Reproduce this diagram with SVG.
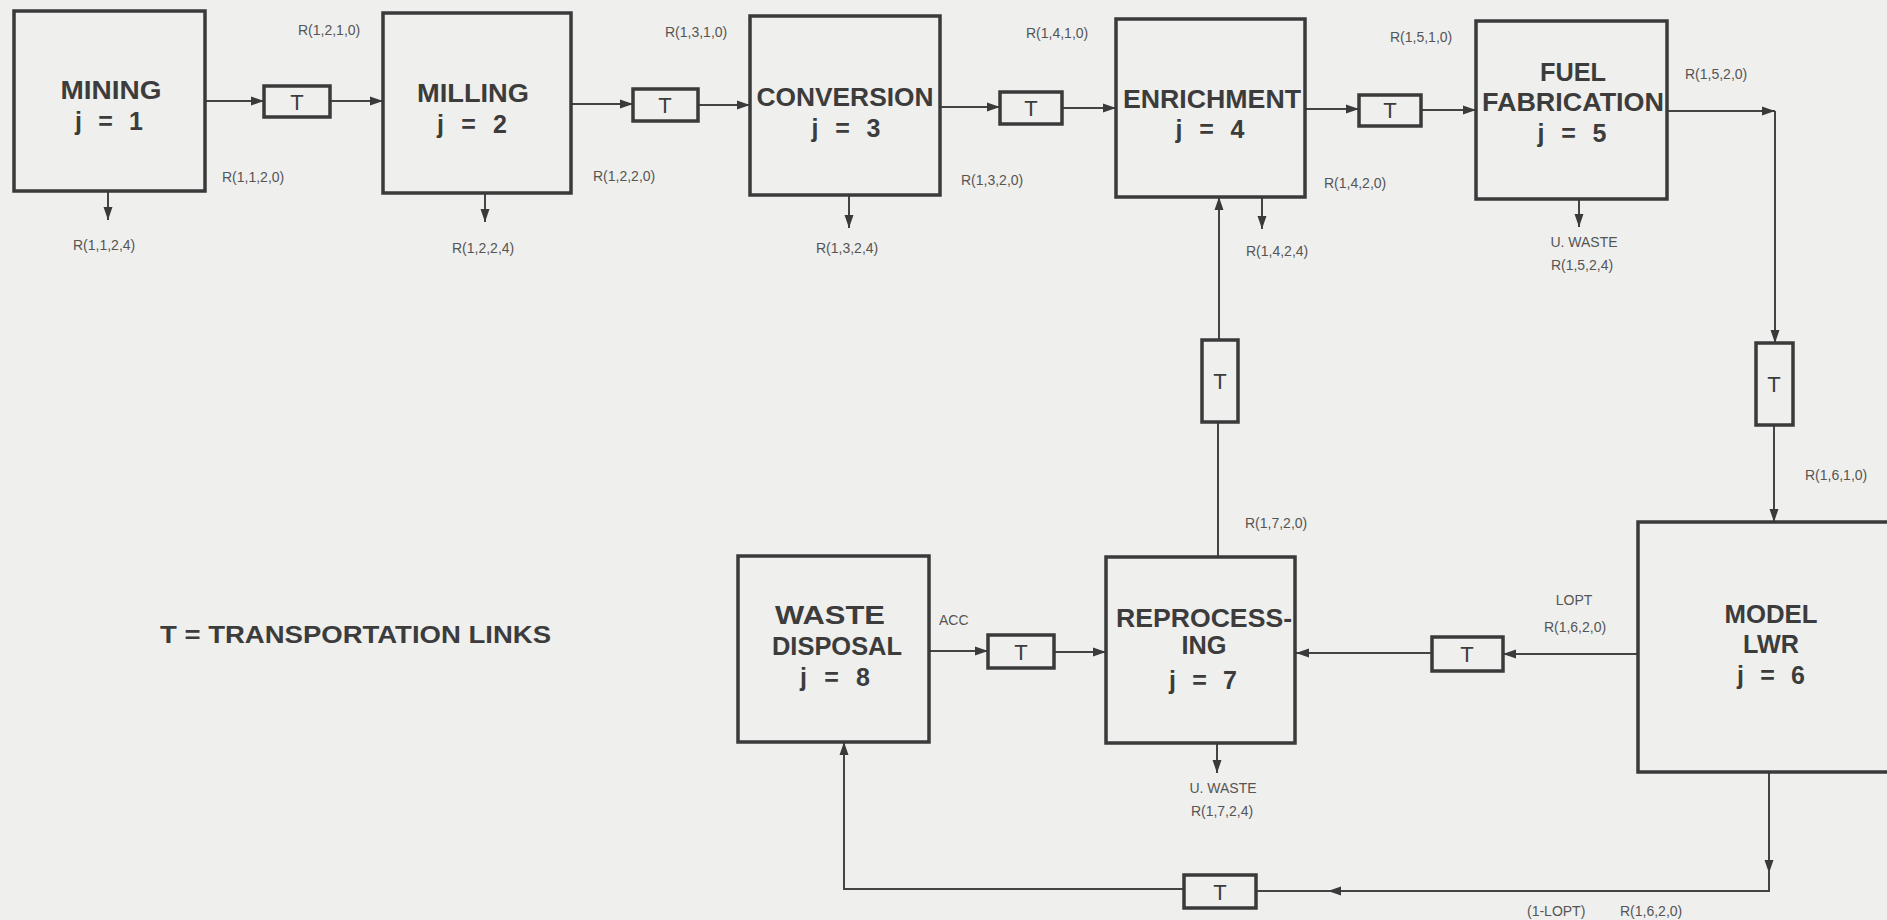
<svg xmlns="http://www.w3.org/2000/svg" width="1887" height="920" viewBox="0 0 1887 920">
<defs>
<marker id="ah" markerUnits="userSpaceOnUse" markerWidth="14" markerHeight="10" refX="13" refY="5" orient="auto">
<path d="M0,0.5 L13,5 L0,9.5 z" fill="#3a3a3a"/>
</marker>
</defs>
<style>
.box{fill:none;stroke:#3a3a3a;stroke-width:3.5}
.tb{fill:none;stroke:#3a3a3a;stroke-width:3.5}
.ln{fill:none;stroke:#444;stroke-width:2}
.arr{fill:none;stroke:#444;stroke-width:2;marker-end:url(#ah)}
.big{font-family:"Liberation Sans",Arial,sans-serif;font-size:25px;font-weight:bold;fill:#3c3c3c;text-anchor:middle}
.jt{font-family:"Liberation Sans",Arial,sans-serif;font-size:25px;font-weight:bold;fill:#3c3c3c;text-anchor:middle}
.t{font-family:"Liberation Sans",Arial,sans-serif;font-size:22px;fill:#3c3c3c;text-anchor:middle}
.sm{font-family:"Liberation Sans",Arial,sans-serif;font-size:14px;fill:#555}
.smc{font-family:"Liberation Sans",Arial,sans-serif;font-size:14px;fill:#555;text-anchor:middle}
.leg{font-family:"Liberation Sans",Arial,sans-serif;font-size:24px;font-weight:bold;fill:#3c3c3c}
</style>
<rect x="0" y="0" width="1887" height="920" fill="#efefed"/>

<g id="connectors">
<path class="arr" d="M205,101 H264"/>
<path class="arr" d="M330,101 H383"/>
<path class="arr" d="M571,104 H633"/>
<path class="arr" d="M698,105 H750"/>
<path class="arr" d="M940,107 H1000"/>
<path class="arr" d="M1062,108 H1116"/>
<path class="arr" d="M1305,109 H1359"/>
<path class="arr" d="M1421,110 H1476"/>
<path class="arr" d="M1667,111 H1775"/>
<path class="arr" d="M1775,111 V343"/>
<path class="arr" d="M1774,425 V522"/>
<path class="arr" d="M1638,654 H1503"/>
<path class="arr" d="M1432,653 H1296"/>
<path class="arr" d="M929,651 H988"/>
<path class="arr" d="M1054,652 H1106"/>
<path class="ln" d="M1218,557 V422"/>
<path class="arr" d="M1219,340 V197"/>
<path class="arr" d="M108,191 V220"/>
<path class="arr" d="M485,193 V222"/>
<path class="arr" d="M849,195 V228"/>
<path class="arr" d="M1262,197 V229"/>
<path class="arr" d="M1579,199 V227"/>
<path class="arr" d="M1217,743 V773"/>
<path class="arr" d="M1769,772 V873"/>
<path class="arr" d="M1769,870 V891 H1328"/>
<path class="ln" d="M1330,891 H1256"/>
<path class="arr" d="M1184,889 H844 V742"/>
</g>

<g id="labels">
<text class="sm" x="298" y="35">R(1,2,1,0)</text>
<text class="sm" x="222" y="182">R(1,1,2,0)</text>
<text class="sm" x="73" y="250">R(1,1,2,4)</text>
<text class="sm" x="452" y="253">R(1,2,2,4)</text>
<text class="sm" x="593" y="181">R(1,2,2,0)</text>
<text class="sm" x="665" y="37">R(1,3,1,0)</text>
<text class="sm" x="961" y="185">R(1,3,2,0)</text>
<text class="sm" x="816" y="253">R(1,3,2,4)</text>
<text class="sm" x="1026" y="38">R(1,4,1,0)</text>
<text class="sm" x="1324" y="188">R(1,4,2,0)</text>
<text class="sm" x="1246" y="256">R(1,4,2,4)</text>
<text class="sm" x="1390" y="42">R(1,5,1,0)</text>
<text class="sm" x="1685" y="79">R(1,5,2,0)</text>
<text class="smc" x="1584" y="247">U. WASTE</text>
<text class="smc" x="1582" y="270">R(1,5,2,4)</text>
<text class="sm" x="1805" y="480">R(1,6,1,0)</text>
<text class="sm" x="1245" y="528">R(1,7,2,0)</text>
<text class="sm" x="939" y="625">ACC</text>
<text class="smc" x="1574" y="605">LOPT</text>
<text class="smc" x="1575" y="632">R(1,6,2,0)</text>
<text class="smc" x="1223" y="793">U. WASTE</text>
<text class="smc" x="1222" y="816">R(1,7,2,4)</text>
<text class="sm" x="1527" y="916">(1-LOPT)</text>
<text class="sm" x="1620" y="916">R(1,6,2,0)</text>
<text class="leg" x="160" y="643" textLength="391" lengthAdjust="spacingAndGlyphs">T = TRANSPORTATION LINKS</text>
</g>

<g id="mining">
<rect class="box" x="14" y="11" width="191" height="180"/>
<text class="big" x="111" y="99" textLength="101" lengthAdjust="spacingAndGlyphs">MINING</text>
<text class="jt" x="109" y="130" textLength="68" lengthAdjust="spacing">j = 1</text>
</g>
<g id="milling">
<rect class="box" x="383" y="13" width="188" height="180"/>
<text class="big" x="473" y="102" textLength="112" lengthAdjust="spacingAndGlyphs">MILLING</text>
<text class="jt" x="472" y="133" textLength="70" lengthAdjust="spacing">j = 2</text>
</g>
<g id="conversion">
<rect class="box" x="750" y="16" width="190" height="179"/>
<text class="big" x="845" y="106" textLength="177" lengthAdjust="spacingAndGlyphs" font-weight="normal">CONVERSION</text>
<text class="jt" x="846" y="137" textLength="69" lengthAdjust="spacing" font-weight="normal">j = 3</text>
</g>
<g id="enrichment">
<rect class="box" x="1116" y="19" width="189" height="178"/>
<text class="big" x="1212" y="108" textLength="178" lengthAdjust="spacingAndGlyphs">ENRICHMENT</text>
<text class="jt" x="1210" y="138" textLength="69" lengthAdjust="spacing">j = 4</text>
</g>
<g id="fuel-fabrication">
<rect class="box" x="1476" y="21" width="191" height="178"/>
<text class="big" x="1573" y="81" textLength="66" lengthAdjust="spacingAndGlyphs">FUEL</text>
<text class="big" x="1573" y="111" textLength="182" lengthAdjust="spacingAndGlyphs">FABRICATION</text>
<text class="jt" x="1572" y="142" textLength="69" lengthAdjust="spacing">j = 5</text>
</g>
<g id="model-lwr">
<rect class="box" x="1638" y="522" width="270" height="250"/>
<text class="big" x="1771" y="623" textLength="93" lengthAdjust="spacingAndGlyphs">MODEL</text>
<text class="big" x="1771" y="653" textLength="56" lengthAdjust="spacingAndGlyphs">LWR</text>
<text class="jt" x="1771" y="684" textLength="68" lengthAdjust="spacing">j = 6</text>
</g>
<g id="reprocessing">
<rect class="box" x="1106" y="557" width="189" height="186"/>
<text class="big" x="1204" y="627" textLength="176" lengthAdjust="spacingAndGlyphs">REPROCESS-</text>
<text class="big" x="1204" y="654" textLength="45" lengthAdjust="spacingAndGlyphs">ING</text>
<text class="jt" x="1203" y="689" textLength="68" lengthAdjust="spacing">j = 7</text>
</g>
<g id="waste-disposal">
<rect class="box" x="738" y="556" width="191" height="186"/>
<text class="big" x="830" y="624" textLength="110" lengthAdjust="spacingAndGlyphs">WASTE</text>
<text class="big" x="837" y="655" textLength="130" lengthAdjust="spacingAndGlyphs">DISPOSAL</text>
<text class="jt" x="835" y="686" textLength="70" lengthAdjust="spacing">j = 8</text>
</g>

<g id="t1"><rect class="tb" x="264" y="86" width="66" height="31"/><text class="t" x="297" y="110">T</text></g>
<g id="t2"><rect class="tb" x="633" y="89" width="65" height="32"/><text class="t" x="665" y="113">T</text></g>
<g id="t3"><rect class="tb" x="1000" y="92" width="62" height="32"/><text class="t" x="1031" y="116">T</text></g>
<g id="t4"><rect class="tb" x="1359" y="95" width="62" height="31"/><text class="t" x="1390" y="118">T</text></g>
<g id="t5"><rect class="tb" x="1756" y="343" width="37" height="82"/><text class="t" x="1774" y="392">T</text></g>
<g id="t6"><rect class="tb" x="1432" y="637" width="71" height="34"/><text class="t" x="1467" y="662">T</text></g>
<g id="t7"><rect class="tb" x="988" y="635" width="66" height="33"/><text class="t" x="1021" y="660">T</text></g>
<g id="t8"><rect class="tb" x="1202" y="340" width="36" height="82"/><text class="t" x="1220" y="389">T</text></g>
<g id="t9"><rect class="tb" x="1184" y="875" width="72" height="33"/><text class="t" x="1220" y="900">T</text></g>
</svg>
